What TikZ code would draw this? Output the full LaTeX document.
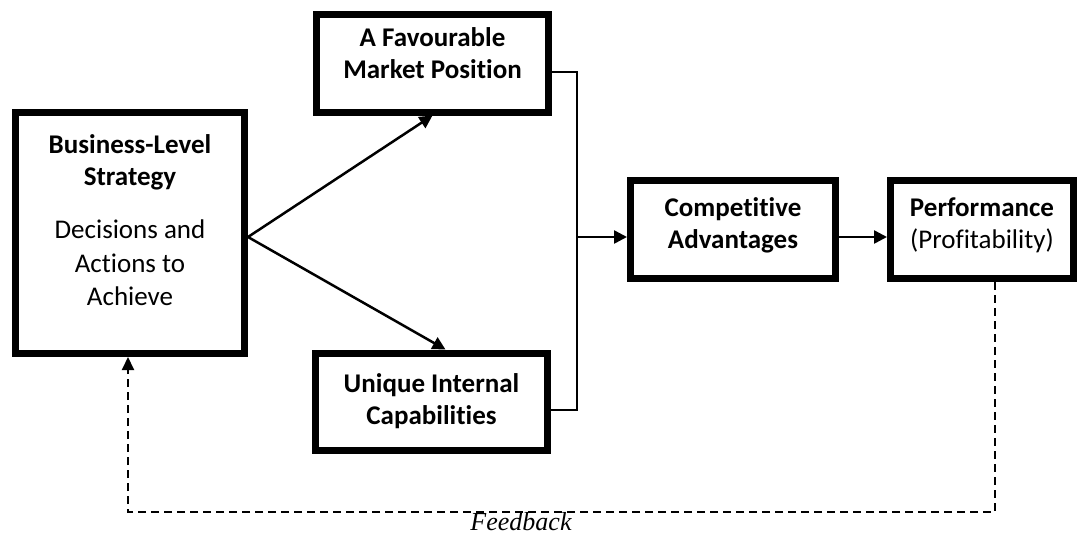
\documentclass[tikz,border=0pt]{standalone}
\usepackage{fontspec}
\setmainfont{Carlito}[Ligatures=NoCommon]
\newfontfamily\fbfont{Liberation Serif}
\usetikzlibrary{arrows.meta}
\begin{document}
\begin{tikzpicture}[x=1pt,y=-1pt,
  box/.style={draw=black,line width=7pt,fill=white,inner sep=0pt},
  txt/.style={align=center,inner sep=0pt,font=\fontsize{27}{32}\selectfont},
  arr/.style={line width=2.5pt,-{Triangle[length=13pt,width=13pt]}},
  thin/.style={line width=1.5pt},
  fb/.style={line width=2pt,dash pattern=on 8pt off 5pt,-{Triangle[length=13pt,width=12pt]}}]
\useasboundingbox (0,0) rectangle (1087,535);
\node[box,minimum width=229pt,minimum height=241pt] (bus) at (130,233) {};
\node[box,minimum width=232pt,minimum height=97pt] (fav) at (432.5,63.5) {};
\node[box,minimum width=232pt,minimum height=97pt] (uniq) at (431.5,401.5) {};
\node[box,minimum width=205pt,minimum height=98pt] (comp) at (733,229.5) {};
\node[box,minimum width=183pt,minimum height=98pt] (perf) at (982,229.5) {};
\node[txt] (bus-t) at ([yshift=13pt]bus.center)
  {\textbf{Business-Level}\\\textbf{Strategy}\\[21pt]
   Decisions and\\[2pt]Actions to\\[1pt]Achieve};
\node[txt] (fav-t) at ([yshift=10pt]fav.center)
  {\textbf{A Favourable}\\\textbf{Market Position}};
\node[txt] (uniq-t) at (uniq.center)
  {\textbf{Unique Internal}\\\textbf{Capabilities}};
\node[txt] (comp-t) at ([yshift=4pt]comp.center)
  {\textbf{Competitive}\\\textbf{Advantages}};
\node[txt] (perf-t) at ([yshift=4pt]perf.center)
  {\textbf{Performance}\\(Profitability)};
\coordinate (j) at (577,237);
\coordinate (b1) at (577,72);
\coordinate (b2) at (577,410);
\coordinate (v) at (bus.east |- j);
\draw[arr] (v) -- (fav.south);
\draw[arr] (v) -- ([xshift=14pt]uniq.north);
\draw[thin] (fav.east |- b1) -- (b1) -- (b2) -- (uniq.east |- b2);
\draw[arr] (j) -- (j -| comp.west);
\draw[arr] (comp.east |- j) -- (perf.west |- j);
\coordinate (f1) at (995,512);
\coordinate (f2) at (128,512);
\draw[fb] (perf.south -| f1) -- (f1) -- (f2) -- (bus.south -| f2);
\node[font=\fbfont\itshape\fontsize{26}{30}\selectfont,anchor=base,inner sep=0pt] (fbl) at (521,530) {Feedback};
\end{tikzpicture}
\end{document}
